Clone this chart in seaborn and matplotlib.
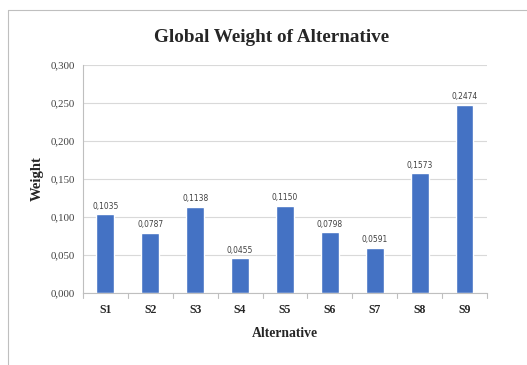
import matplotlib
matplotlib.use("Agg")
import matplotlib.pyplot as plt
from matplotlib.lines import Line2D
from matplotlib.ticker import FuncFormatter, MultipleLocator
import seaborn as sns
import pandas as pd

alternatives = ["S1", "S2", "S3", "S4", "S5", "S6", "S7", "S8", "S9"]
weights = [0.1035, 0.0787, 0.1138, 0.0455, 0.1150, 0.0798, 0.0591, 0.1573, 0.2474]

df = pd.DataFrame({"Alternative": alternatives, "Weight": weights})

sns.set_style("white")
serif = ["Liberation Serif", "DejaVu Serif"]

fig = plt.figure(figsize=(5.27, 3.65), dpi=100)
ax = fig.add_axes([0.1575, 0.197, 0.7665, 0.625])

sns.barplot(data=df, x="Alternative", y="Weight", color="#4472C4",
            width=0.4, saturation=1, ax=ax)

ax.set_ylim(0, 0.3)
ax.set_xlim(-0.5, len(alternatives) - 0.5)
ax.yaxis.set_major_locator(MultipleLocator(0.05))
ax.yaxis.set_major_formatter(FuncFormatter(lambda v, p: f"{v:.3f}".replace(".", ",")))
ax.grid(axis="y", color="#d9d9d9", linewidth=0.8)
ax.set_axisbelow(True)

for s in ["top", "right"]:
    ax.spines[s].set_visible(False)
ax.spines["left"].set_color("#bfbfbf")
ax.spines["bottom"].set_color("#bfbfbf")

ax.tick_params(axis="y", length=4, color="#bfbfbf", labelsize=7.8, pad=2)
ax.tick_params(axis="x", length=0, labelsize=8.5, pad=8)
for lab in ax.get_yticklabels():
    lab.set_fontfamily(serif)
    lab.set_color("#404040")
for lab in ax.get_xticklabels():
    lab.set_fontfamily(serif)
    lab.set_fontweight("bold")

# tick marks between categories
for i in range(len(alternatives) + 1):
    ax.plot([i - 0.5, i - 0.5], [0, -0.006], color="#bfbfbf", lw=0.8,
            clip_on=False, transform=ax.transData)

for i, w in enumerate(weights):
    ax.text(i, w + 0.005, f"{w:.4f}".replace(".", ","), ha="center", va="bottom",
            fontsize=6, color="#404040", fontstretch="condensed")

ax.set_xlabel("Alternative", fontfamily=serif, fontweight="bold", fontsize=9.8, labelpad=8)
ax.set_ylabel("Weight", fontfamily=serif, fontweight="bold", fontsize=10.5, labelpad=5)

fig.text(0.515, 0.898, "Global Weight of Alternative", ha="center", va="center",
         fontfamily=serif, fontweight="bold", fontsize=13.8)

# outer frame
fig.add_artist(Line2D([8 / 527, 1], [1 - 10 / 365, 1 - 10 / 365], color="#bfbfbf", lw=0.8))
fig.add_artist(Line2D([8 / 527, 8 / 527], [0, 1 - 10 / 365], color="#bfbfbf", lw=0.8))

fig.savefig("out.png", dpi=100)
